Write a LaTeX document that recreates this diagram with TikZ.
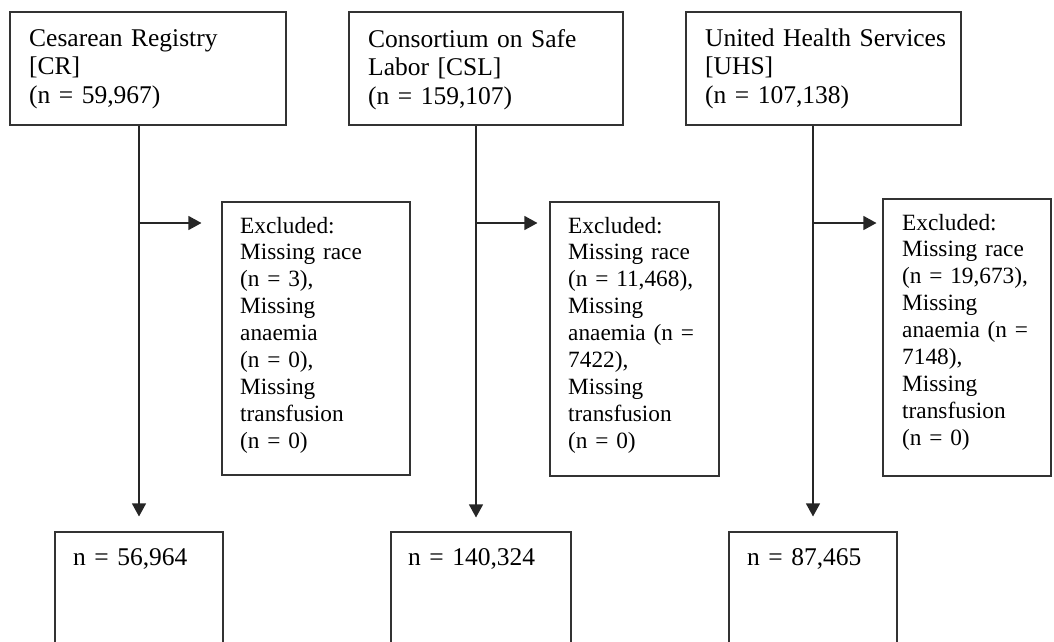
\documentclass[tikz,border=0pt]{standalone}
\usepackage{fontspec}
\setmainfont{Liberation Serif}
\usetikzlibrary{arrows.meta,calc}
\newcommand\topfont{\fontsize{25.5}{28.7}\selectfont}
\newcommand\exfont{\fontsize{23.3}{26.9}\selectfont}
\tikzset{
  boxrect/.style={draw=black!80, line width=1.1pt, minimum width=#1, inner sep=0pt},
  txt/.style={anchor=base west, inner sep=0pt, text width=320pt, align=left},
  arr/.style={draw=black!85, line width=1.1pt, -{Triangle[length=13pt,width=14pt]}}
}
\begin{document}
\begin{tikzpicture}[x=1pt,y=-1pt]
\useasboundingbox (0,0) rectangle (1054,641);
\clip (0,0) rectangle (1054,641);
% top boxes
\node[boxrect=276pt, minimum height=113pt] (cr) at (148,68.5) {};
\node[boxrect=274pt, minimum height=113pt] (csl) at (486,68.5) {};
\node[boxrect=275pt, minimum height=113pt] (uhs) at (823.5,68.5) {};
\node[txt, font=\topfont] (crt) at (29,46) {Cesarean Registry\\{[CR]}\\(n = 59,967)};
\node[txt, font=\topfont] (cslt) at (368,47) {Consortium on Safe\\Labor [CSL]\\(n = 159,107)};
\node[txt, font=\topfont] (uhst) at (705,46) {United Health Services\\{[UHS]}\\(n = 107,138)};
% excluded boxes
\node[boxrect=188pt, minimum height=273pt] (ex1) at (316,338.5) {};
\node[boxrect=169pt, minimum height=274pt] (ex2) at (634.5,339) {};
\node[boxrect=168pt, minimum height=277pt] (ex3) at (967,337.5) {};
\node[txt, font=\exfont] (ex1t) at (240,233) {Excluded:\\Missing race\\(n = 3),\\Missing\\anaemia\\(n = 0),\\Missing\\transfusion\\(n = 0)};
\node[txt, font=\exfont] (ex2t) at (568,233) {Excluded:\\Missing race\\(n = 11,468),\\Missing\\anaemia (n =\\7422),\\Missing\\transfusion\\(n = 0)};
\node[txt, font=\exfont] (ex3t) at (902,230) {Excluded:\\Missing race\\(n = 19,673),\\Missing\\anaemia (n =\\7148),\\Missing\\transfusion\\(n = 0)};
% bottom boxes (cut off by the page edge)
\node[boxrect=168pt, minimum height=200pt] (b1) at (139,632) {};
\node[boxrect=180pt, minimum height=200pt] (b2) at (481,632) {};
\node[boxrect=168pt, minimum height=200pt] (b3) at (813,632) {};
\node[txt, font=\topfont] (b1t) at (73,565) {n = 56,964};
\node[txt, font=\topfont] (b2t) at (408,565) {n = 140,324};
\node[txt, font=\topfont] (b3t) at (747,565) {n = 87,465};
% junction coordinates
\coordinate (j1) at (139,223);
\coordinate (j2) at (476,223);
\coordinate (j3) at (813,223);
% connectors
\draw[arr, shorten >=15pt] (cr.south -| j1) -- (j1 |- b1.north);
\draw[arr, shorten >=14pt] (csl.south -| j2) -- (j2 |- b2.north);
\draw[arr, shorten >=15pt] (uhs.south -| j3) -- (j3 |- b3.north);
\draw[arr, shorten >=20pt] (j1) -- (j1 -| ex1.west);
\draw[arr, shorten >=12pt] (j2) -- (j2 -| ex2.west);
\draw[arr, shorten >=6pt] (j3) -- (j3 -| ex3.west);
\end{tikzpicture}
\end{document}
